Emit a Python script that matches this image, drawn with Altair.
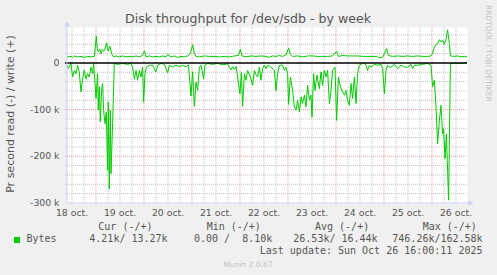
import altair as alt
import pandas as pd

# hours since 19 Oct 00:00, value in k (bytes/s); read is plotted negative
read_points = [
    (-14.5, 5), (-13.8, 12), (-12.5, 1), (-11.7, 30), (-10.8, 16), (-10.0, 23), (-9.2, 5), (-8.4, 19),
    (-7.5, 62), (-6.7, 34), (-5.85, 16), (-5.0, 34), (-4.2, 23), (-3.35, 30), (-2.5, 9), (-1.7, 23),
    (-1.2, 1), (-0.5, 44), (0.0, 76), (0.8, 23), (1.15, 101), (1.65, 51), (2.15, 126), (2.8, 59),
    (3.3, 44), (3.8, 101), (4.5, 130), (5.15, 105), (5.8, 230), (6.15, 84), (6.65, 270), (7.15, 101),
    (7.5, 237), (8.3, 130), (9.15, 1), (10.8, 3), (13.3, 1), (15.8, 3), (17.5, 1), (18.3, 9),
    (19.2, 34), (20.0, 16), (20.8, 37), (21.7, 16), (22.5, 30), (23.3, 9), (23.8, 84), (24.5, 23),
    (25.2, 9), (26.7, 5), (28.3, 5), (30.0, 19), (30.8, 5), (32.5, 1), (34.2, 3), (35.0, 12),
    (35.8, 21), (36.7, 5), (38.3, 9), (40.0, 5), (41.7, 8), (43.3, 5), (45.0, 8), (46.2, 4),
    (47.5, 71), (48.3, 19), (49.2, 93), (50.0, 41), (50.8, 59), (51.7, 9), (52.5, 5), (53.8, 34),
    (54.5, 5), (55.8, 1), (58.3, 3), (60.8, 1), (63.3, 4), (65.8, 2), (66.7, 9), (67.5, 15),
    (68.3, 8), (69.2, 14), (70.0, 7), (70.8, 30), (72.0, 66), (72.7, 20), (73.3, 93), (74.2, 23),
    (75.0, 37), (75.8, 16), (77.2, 30), (78.3, 48), (79.2, 16), (80.0, 25), (80.8, 30), (81.7, 9),
    (82.5, 37), (83.3, 12), (84.2, 5), (85.0, 12), (85.8, 5), (87.5, 9), (89.2, 16), (90.0, 59),
    (90.8, 23), (91.7, 5), (93.3, 5), (94.2, 16), (95.0, 9), (95.8, 23), (96.3, 89), (97.2, 30),
    (98.3, 59), (99.2, 94), (100.0, 101), (100.8, 80), (101.7, 105), (102.5, 73), (103.3, 87), (104.2, 69),
    (105.0, 94), (105.8, 48), (106.7, 80), (107.5, 69), (108.0, 116), (108.8, 23), (109.5, 59), (110.5, 26),
    (111.7, 55), (112.5, 19), (113.3, 48), (114.2, 16), (115.0, 30), (115.8, 16), (116.7, 87), (117.5, 59),
    (118.3, 16), (119.5, 9), (120.3, 123), (121.2, 30), (122.2, 51), (123.3, 62), (124.2, 69), (125.0, 59),
    (125.8, 80), (126.7, 91), (127.5, 44), (128.3, 76), (129.2, 30), (130.0, 87), (130.8, 23), (131.7, 5),
    (133.3, 1), (134.2, 0), (135.0, 5), (135.8, 16), (136.7, 5), (137.5, 9), (139.2, 3), (140.8, 5),
    (142.5, 3), (143.3, 12), (144.2, 66), (145.0, 16), (145.8, 5), (146.7, 9), (147.5, 9), (149.2, 3),
    (150.8, 12), (152.5, 5), (154.2, 9), (155.8, 9), (157.5, 3), (158.3, 12), (159.2, 5), (160.8, 5),
    (163.3, 3), (165.8, 1), (167.5, 5), (168.3, 51), (169.2, 37), (170.0, 94), (170.8, 173), (171.7, 123),
    (172.5, 91), (173.3, 152), (173.8, 141), (174.5, 205), (175.2, 152), (175.8, 230), (176.3, 294), (177.2, 1),
    (179.2, 1), (180.8, 1), (182.5, 1), (184.2, 0), (185.5, 0),
]

write_points = [
    (-14.5, 13), (-12.5, 14), (-11.7, 12), (-10.8, 15), (-9.2, 13), (-7.5, 14), (-5.85, 12), (-4.2, 14),
    (-2.5, 13), (-0.8, 14), (0.15, 57), (0.65, 30), (1.15, 24), (1.8, 30), (2.5, 20), (3.15, 29),
    (3.8, 25), (4.5, 30), (5.3, 43), (6.0, 26), (7.0, 36), (7.8, 20), (8.8, 13), (10.0, 15),
    (11.7, 13), (13.3, 15), (15.0, 13), (16.7, 14), (18.3, 13), (20.0, 15), (21.7, 13), (23.3, 16),
    (24.2, 26), (25.0, 13), (26.7, 15), (28.3, 13), (30.0, 14), (31.7, 13), (33.3, 15), (35.0, 13),
    (35.8, 18), (37.5, 13), (39.2, 15), (40.8, 12), (42.5, 14), (44.2, 13), (45.8, 15), (47.2, 20),
    (48.3, 39), (49.2, 20), (50.0, 14), (51.7, 13), (54.2, 15), (56.7, 14), (59.2, 14), (61.7, 13),
    (64.2, 14), (66.7, 13), (69.2, 15), (71.2, 16), (72.2, 29), (73.0, 15), (75.0, 13), (77.5, 15),
    (80.0, 14), (82.5, 15), (85.0, 14), (86.7, 12), (88.3, 15), (90.0, 14), (91.7, 16), (93.3, 14),
    (95.0, 17), (96.3, 32), (97.2, 18), (98.3, 14), (100.8, 15), (103.3, 13), (105.8, 15), (108.3, 15),
    (110.8, 14), (113.3, 14), (115.8, 14), (118.3, 15), (120.3, 25), (121.2, 14), (123.3, 16), (125.8, 15),
    (128.3, 15), (130.8, 15), (133.3, 14), (135.0, 14), (137.5, 14), (140.5, 14), (141.2, 11), (143.3, 12),
    (144.2, 20), (145.3, 31), (146.2, 16), (148.3, 14), (150.8, 15), (153.3, 14), (155.8, 15), (158.3, 14),
    (160.8, 15), (163.3, 14), (165.8, 14), (167.5, 15), (168.3, 21), (169.2, 34), (170.0, 40), (170.8, 41),
    (171.7, 50), (172.5, 45), (173.3, 49), (174.2, 40), (175.0, 50), (175.8, 71), (176.7, 41), (177.2, 15),
    (179.2, 14), (180.8, 15), (182.5, 13), (184.2, 14), (185.5, 14),
]

day_labels = ["18 oct.", "19 oct.", "20 oct.", "21 oct.", "22 oct.", "23 oct.", "24 oct.", "25 oct.", "26 oct."]
label_hours = [-12, 12, 36, 60, 84, 108, 132, 156, 180]
y_tick_vals = [0, -100, -200, -300]
y_tick_text = ["0", "-100 k", "-200 k", "-300 k"]

title_text = "Disk throughput for /dev/sdb - by week"
y_title = "Pr second read (-) / write (+)"
legend_name = "Bytes"
legend_headers = ["Cur (-/+)", "Min (-/+)", "Avg (-/+)", "Max (-/+)"]
legend_values = ["4.21k/ 13.27k", "0.00 /  8.10k", "26.53k/ 16.44k", "746.26k/162.58k"]
last_update = "Last update: Sun Oct 26 16:00:11 2025"
watermark = "RRDTOOL / TOBI OETIKER"
version = "Munin 2.0.67"

W, H = 400, 176
GREEN = "#00cc00"
TXT = "#555555"
AXIS = "#c8d0f4"
MINOR = "#c0c0c0"
MAJOR = "#f09a9a"

xs = alt.Scale(domain=[-14.5, 185.5], nice=False, zero=False)
ys = alt.Scale(domain=[-300, 77], nice=False, zero=False)

minor_v = [h for h in range(-12, 186, 6) if h % 24 != 0]
major_v = [h for h in range(0, 186, 24)]
minor_h = [v for v in range(-280, 77, 20) if v % 100 != 0]
major_h = [-100, -200]

def X(f="h"):
    return alt.X(f + ":Q", scale=xs, axis=None)

def Y(f="v"):
    return alt.Y(f + ":Q", scale=ys, axis=None)

layers = []
layers.append(alt.Chart(pd.DataFrame({"h": minor_v})).mark_rule(color=MINOR, strokeDash=[1, 1], strokeWidth=1).encode(
    x=X(), y=alt.value(0), y2=alt.value(H + 2)))
layers.append(alt.Chart(pd.DataFrame({"v": minor_h})).mark_rule(color=MINOR, strokeDash=[1, 1], strokeWidth=1).encode(
    y=Y(), x=alt.value(-2), x2=alt.value(W)))
layers.append(alt.Chart(pd.DataFrame({"h": major_v})).mark_rule(color=MAJOR, strokeDash=[1, 1], strokeWidth=1).encode(
    x=X(), y=alt.value(0), y2=alt.value(H + 2)))
layers.append(alt.Chart(pd.DataFrame({"v": major_h})).mark_rule(color=MAJOR, strokeDash=[1, 1], strokeWidth=1).encode(
    y=Y(), x=alt.value(-2), x2=alt.value(W)))

ldf = pd.concat([
    pd.DataFrame({"h": [p[0] for p in read_points], "v": [-p[1] for p in read_points], "s": "read"}),
    pd.DataFrame({"h": [p[0] for p in write_points], "v": [p[1] for p in write_points], "s": "write"}),
])
layers.append(alt.Chart(ldf).mark_line(color=GREEN, strokeWidth=1).encode(x=X(), y=Y(), detail="s:N"))
layers.append(alt.Chart(pd.DataFrame({"v": [0]})).mark_rule(color="#000000", strokeWidth=1.4).encode(
    y=Y(), x=alt.value(-2), x2=alt.value(W)))

one = pd.DataFrame({"a": [0]})
# axis lines
layers.append(alt.Chart(one).mark_rule(color=AXIS, strokeWidth=1).encode(x=alt.value(0), y=alt.value(-4), y2=alt.value(H)))
layers.append(alt.Chart(one).mark_rule(color=AXIS, strokeWidth=1).encode(y=alt.value(H), x=alt.value(0), x2=alt.value(W + 4)))
layers.append(alt.Chart(one).mark_point(shape="triangle-up", filled=True, color=AXIS, size=30, opacity=1).encode(x=alt.value(0), y=alt.value(-3)))
layers.append(alt.Chart(one).mark_point(shape="triangle-right", filled=True, color=AXIS, size=30, opacity=1).encode(x=alt.value(W + 4), y=alt.value(H)))

# axis labels
layers.append(alt.Chart(pd.DataFrame({"v": y_tick_vals, "t": y_tick_text})).mark_text(
    align="right", baseline="middle", font="DejaVu Sans", fontSize=9.3, color=TXT).encode(
    y=Y(), x=alt.value(-7.5), text="t:N"))
layers.append(alt.Chart(pd.DataFrame({"h": label_hours, "t": day_labels})).mark_text(
    align="center", baseline="alphabetic", font="DejaVu Sans", fontSize=9.3, color=TXT).encode(
    x=X(), y=alt.value(H + 13), text="t:N"))

def txt(s, x, y, size, font="DejaVu Sans", color=TXT, align="left", angle=0, baseline="alphabetic"):
    s = s.replace(" ", "\u00a0")
    return alt.Chart(pd.DataFrame({"t": [s]})).mark_text(
        align=align, baseline=baseline, font=font, fontSize=size, color=color, angle=angle).encode(
        x=alt.value(x), y=alt.value(y), text="t:N")

layers.append(txt(title_text, 181, -4.5, 12.6, align="center"))
layers.append(txt(y_title, -56, 87, 11, align="center", angle=270, baseline="middle"))
layers.append(txt(watermark, 420.5, -22, 7.5, color="#c4c4c4", align="left", angle=90, baseline="middle"))
layers.append(txt(version, 181, 240, 7.5, color="#c4c4c4", align="center"))

MONO = "DejaVu Sans Mono"
layers.append(alt.Chart(one).mark_square(color=GREEN, size=36, opacity=1).encode(x=alt.value(-50), y=alt.value(213)))
layers.append(txt(legend_name, -40.5, 215.3, 10, font=MONO))
hdr_x = [31.3, 139.7, 248, 355.7]
val_x = [22.3, 127, 226.3, 325.3]
for s, x in zip(legend_headers, hdr_x):
    layers.append(txt(s, x, 202.5, 10, font=MONO))
for s, x in zip(legend_values, val_x):
    layers.append(txt(s, x, 215.3, 10, font=MONO))
layers.append(txt(last_update, 415.5, 227, 10, font=MONO, align="right"))

chart = alt.layer(*layers).properties(
    width=W, height=H,
    autosize=alt.AutoSizeParams(type="none"),
    padding={"left": 67, "top": 27, "right": 30, "bottom": 72},
    background="#f0f0f0",
).configure_view(fill="white", stroke="transparent")

chart.save("out.html", embed_options={"renderer": "svg", "actions": False})
